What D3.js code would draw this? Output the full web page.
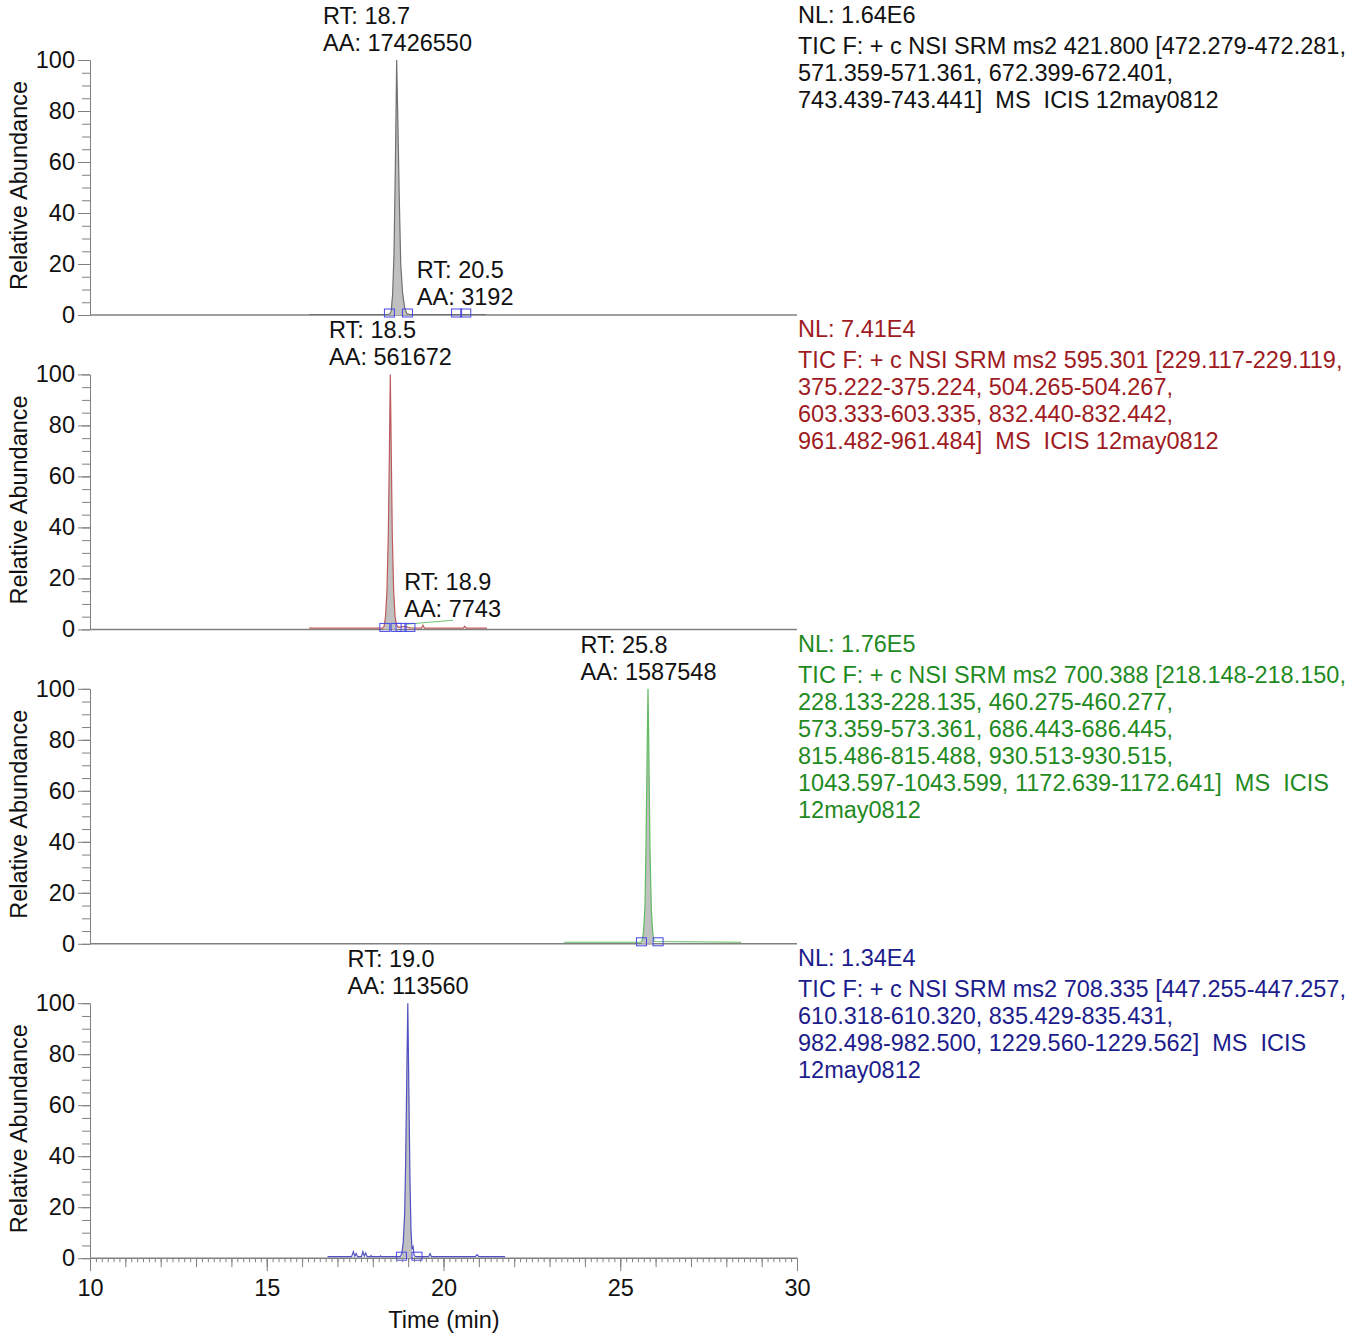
<!DOCTYPE html>
<html>
<head>
<meta charset="utf-8">
<script src="https://cdn.jsdelivr.net/npm/d3@7"></script>
<style>
  body { margin: 0; background: #fff; }
  svg text { font-family: "Liberation Sans", Arial, sans-serif; font-size: 23.5px; white-space: pre; }
</style>
</head>
<body>
<div id="chart"></div>
<script>
// time axis
var timeDomain = [10, 30];
var timeTicks = [10, 15, 20, 25, 30];
var abundanceTicks = [0, 20, 40, 60, 80, 100];

// chromatogram traces, [time (min), relative abundance %]
var trace1 = [[16.2,0.2],[18.40,0.2],[18.48,0.4],[18.52,1.5],[18.56,8],[18.60,24],[18.64,60],[18.675,100],[18.71,75],[18.75,45],[18.79,20],[18.84,9],[18.90,3],[18.96,0.6],[19.05,0.2],[21.2,0.2]];
var trace2 = [[16.2,0.5],[18.28,0.5],[18.32,1.2],[18.36,5],[18.40,15],[18.44,38],[18.47,70],[18.495,100],[18.52,72],[18.55,38],[18.59,15],[18.63,5],[18.67,1.8],[18.72,0.8],[18.90,1.2],[19.05,0.6],[19.38,0.5],[19.42,1.6],[19.46,0.5],[20.56,0.5],[20.60,1.2],[20.64,0.5],[21.23,0.5]];
var trace3 = [[23.41,0.6],[25.58,0.6],[25.62,1.2],[25.66,5],[25.70,15],[25.73,40],[25.76,74],[25.785,100],[25.81,74],[25.84,38],[25.88,13],[25.92,4],[25.96,0.9],[28.42,0.6]];
var trace4 = [[16.72,0.6],[17.40,0.6],[17.45,2.6],[17.49,0.8],[17.53,1.8],[17.57,0.6],[17.68,0.6],[17.72,2.6],[17.76,0.8],[17.80,2],[17.84,0.6],[17.93,0.6],[17.95,1],[17.97,0.6],[18.20,0.6],[18.22,0.9],[18.24,0.6],[18.78,0.6],[18.82,1.8],[18.86,6],[18.90,17],[18.93,38],[18.96,70],[18.99,100],[19.02,66],[19.05,32],[19.08,11],[19.11,3.5],[19.14,4.5],[19.17,1],[19.22,0.6],[19.58,0.6],[19.62,1.8],[19.66,0.6],[20.90,0.6],[20.95,1.4],[21.00,0.6],[21.74,0.6]];

// integrated (shaded) ranges
var fill1 = [18.47, 18.98];
var fill2 = [18.32, 18.68];
var fill3 = [25.62, 25.94];
var fill4 = [18.80, 19.13];

// peak boundary markers
var marks1 = [18.47, 18.98, 20.37, 20.63];
var marks2 = [18.34, 18.66, 18.80, 19.05];
var marks3 = [25.60, 26.07];
var marks4 = [18.81, 19.25];

// small peak baseline in panel 2
var extraBase2 = [[18.92, 2], [20.27, 3.6]];

// peak annotations: rt, area, apex height %
var peaks1 = [{rt: "18.7", aa: "17426550", top: 100}, {rt: "20.5", aa: "3192", top: 0.3}];
var peaks2 = [{rt: "18.5", aa: "561672", top: 100}, {rt: "18.9", aa: "7743", top: 1.2}];
var peaks3 = [{rt: "25.8", aa: "1587548", top: 100}];
var peaks4 = [{rt: "19.0", aa: "113560", top: 100}];

// header text for each trace
var header1 = ["NL: 1.64E6", "TIC F: + c NSI SRM ms2 421.800 [472.279-472.281,", "571.359-571.361, 672.399-672.401,", "743.439-743.441]  MS  ICIS 12may0812"];
var header2 = ["NL: 7.41E4", "TIC F: + c NSI SRM ms2 595.301 [229.117-229.119,", "375.222-375.224, 504.265-504.267,", "603.333-603.335, 832.440-832.442,", "961.482-961.484]  MS  ICIS 12may0812"];
var header3 = ["NL: 1.76E5", "TIC F: + c NSI SRM ms2 700.388 [218.148-218.150,", "228.133-228.135, 460.275-460.277,", "573.359-573.361, 686.443-686.445,", "815.486-815.488, 930.513-930.515,", "1043.597-1043.599, 1172.639-1172.641]  MS  ICIS", "12may0812"];
var header4 = ["NL: 1.34E4", "TIC F: + c NSI SRM ms2 708.335 [447.255-447.257,", "610.318-610.320, 835.429-835.431,", "982.498-982.500, 1229.560-1229.562]  MS  ICIS", "12may0812"];

var panels = [
	{trace: trace1, fill: fill1, marks: marks1, peaks: peaks1, header: header1, color: "#111111", line: "#707070", shift: [0, 4]},
	{trace: trace2, fill: fill2, marks: marks2, peaks: peaks2, header: header2, color: "#9e1b1f", line: "#bd5a5c", shift: [0, 48], extra: extraBase2},
	{trace: trace3, fill: fill3, marks: marks3, peaks: peaks3, header: header3, color: "#1f8a1f", line: "#62bb62", shift: [0]},
	{trace: trace4, fill: fill4, marks: marks4, peaks: peaks4, header: header4, color: "#1c1c8c", line: "#5050c0", shift: [0]}
];

var W = 1360, H = 1334;
var plotTop = 60, plotH = 255, step = 314.4;
var axisColor = "#808080";
var fontSize = 23.5;

var svg = d3.select("#chart").append("svg")
	.attr("width", W)
	.attr("height", H);

var x = d3.scaleLinear().domain(timeDomain).range([90, 797]);

panels.forEach(function (p, i) {
	var top = plotTop + i * step;
	var y = d3.scaleLinear().domain([0, 100]).range([top + plotH, top]);
	var g = svg.append("g");

	// y axis: labelled ticks every 20, minor every 5
	var yMinor = g.append("g").attr("transform", "translate(90,0)")
		.call(d3.axisLeft(y).tickValues(d3.range(0, 101, 5)).tickSize(8).tickSizeOuter(0).tickFormat(""));
	var yMajor = g.append("g").attr("transform", "translate(90,0)")
		.call(d3.axisLeft(y).tickValues(abundanceTicks).tickSize(12).tickSizeOuter(0).tickPadding(3));
	[yMinor, yMajor].forEach(function (a) {
		a.selectAll("line").attr("stroke", axisColor);
		a.select(".domain").attr("stroke", axisColor);
	});
	yMajor.selectAll("text")
		.attr("font-size", fontSize)
		.attr("font-family", "Liberation Sans, Arial, sans-serif")
		.attr("fill", "#111");

	g.append("text")
		.attr("transform", "translate(19," + (top + plotH / 2 - 2) + ") rotate(-90)")
		.attr("text-anchor", "middle")
		.attr("dominant-baseline", "central")
		.attr("fill", "#111")
		.text("Relative Abundance");

	// baseline
	g.append("line")
		.attr("x1", 90).attr("x2", 797)
		.attr("y1", y(0)).attr("y2", y(0))
		.attr("stroke", axisColor)
		.attr("stroke-width", 1.5);

	// shaded peak area
	var fillPts = p.trace.filter(function (d) { return d[0] >= p.fill[0] && d[0] <= p.fill[1]; });
	g.append("path")
		.datum(fillPts)
		.attr("d", d3.area().x(function (d) { return x(d[0]); }).y0(y(0)).y1(function (d) { return y(d[1]); }))
		.attr("fill", "#c0c0c0");

	// trace
	g.append("path")
		.datum(p.trace)
		.attr("d", d3.line().x(function (d) { return x(d[0]); }).y(function (d) { return y(d[1]); }))
		.attr("fill", "none")
		.attr("stroke", p.line)
		.attr("stroke-width", 1.2);

	if (p.extra) {
		g.append("path")
			.datum(p.extra)
			.attr("d", d3.line().x(function (d) { return x(d[0]); }).y(function (d) { return y(d[1]); }))
			.attr("fill", "none")
			.attr("stroke", "#6cc46c")
			.attr("stroke-width", 1);
	}

	// boundary boxes
	g.selectAll("rect.mark")
		.data(p.marks)
		.enter()
		.append("rect")
		.attr("class", "mark")
		.attr("x", function (d) { return x(d) - 5; })
		.attr("y", y(0) - 6)
		.attr("width", 10)
		.attr("height", 8)
		.attr("fill", "none")
		.attr("stroke", "#4646e6")
		.attr("stroke-width", 1);

	// peak labels
	p.peaks.forEach(function (pk, j) {
		var lab = g.append("g");
		var aaY = y(pk.top) - 9;
		var t1 = lab.append("text").attr("y", aaY - 27).attr("fill", "#111").text("RT: " + pk.rt);
		var t2 = lab.append("text").attr("y", aaY).attr("fill", "#111").text("AA: " + pk.aa);
		var w = Math.max(t1.node().getComputedTextLength(), t2.node().getComputedTextLength());
		var left = x(+pk.rt) - w / 2 + (p.shift[j] || 0);
		lab.selectAll("text").attr("x", left);
	});

	// header block
	g.selectAll("text.hdr")
		.data(p.header)
		.enter()
		.append("text")
		.attr("class", "hdr")
		.attr("x", 798)
		.attr("y", function (d, k) { return k == 0 ? top - 37 : top - 6 + (k - 1) * 27; })
		.attr("fill", p.color)
		.text(function (d) { return d; });

	// time axis only on the last panel
	if (i == panels.length - 1) {
		var base = y(0);
		var xs = [
			{vals: d3.range(0, 121).map(function (k) { return 10 + k / 6; }), size: 4},
			{vals: d3.range(10, 31, 1), size: 9},
			{vals: timeTicks, size: 13}
		];
		xs.forEach(function (s, k) {
			var ax = g.append("g").attr("transform", "translate(0," + base + ")")
				.call(d3.axisBottom(x).tickValues(s.vals).tickSize(s.size).tickSizeOuter(0)
					.tickFormat(k == 2 ? d3.format("d") : "").tickPadding(8));
			ax.select(".domain").remove();
			ax.selectAll("line").attr("stroke", axisColor);
			ax.selectAll("text")
				.attr("font-size", fontSize)
				.attr("font-family", "Liberation Sans, Arial, sans-serif")
				.attr("fill", "#111");
		});
		g.append("text")
			.attr("x", 444)
			.attr("y", base + 70)
			.attr("text-anchor", "middle")
			.attr("fill", "#111")
			.text("Time (min)");
	}
});
</script>
</body>
</html>
